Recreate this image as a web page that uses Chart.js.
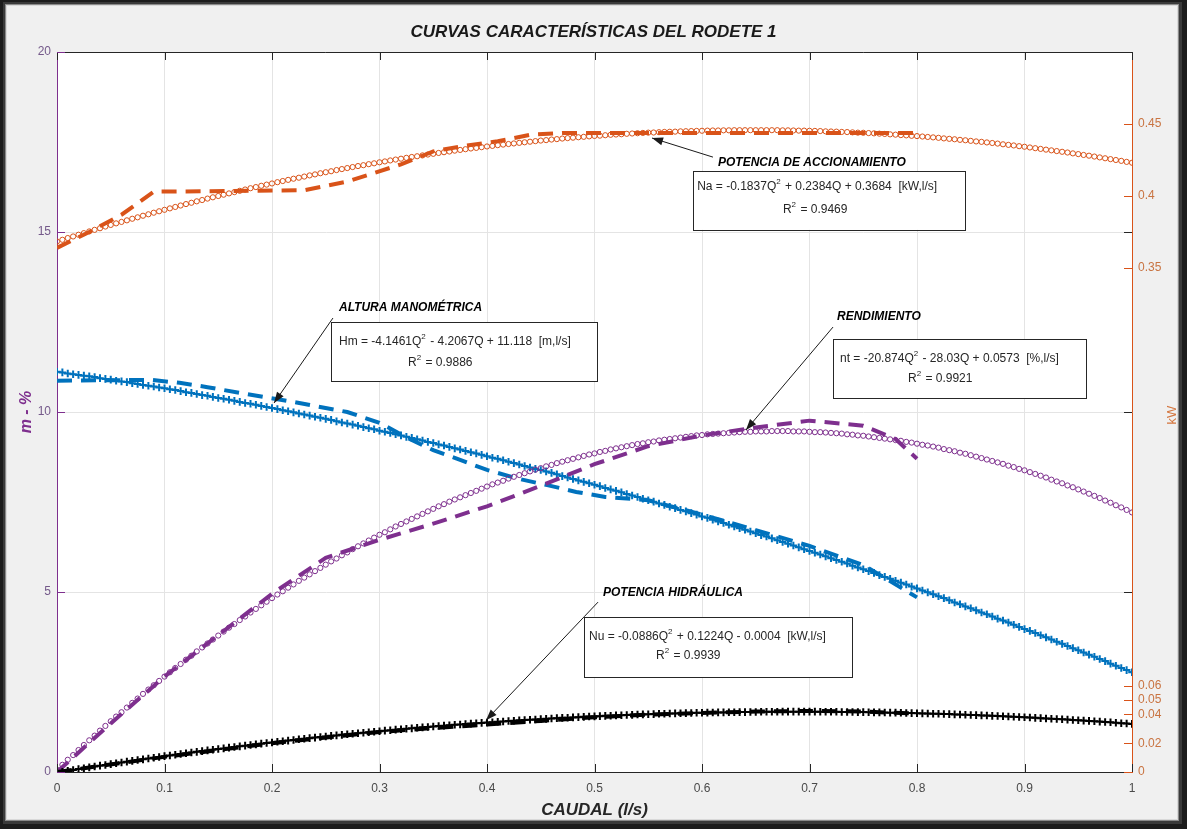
<!DOCTYPE html>
<html>
<head>
<meta charset="utf-8">
<script src="https://cdn.jsdelivr.net/npm/chart.js@4.4.1/dist/chart.umd.min.js"></script>
<style>
  html, body { margin: 0; padding: 0; background: #1c1c1c; }
  canvas { display: block; }
</style>
</head>
<body>
<canvas id="grafico" width="1187" height="829"></canvas>
<script>
// Caudal (l/s): malla de evaluación de las curvas ajustadas
const caudal = [
  0,0.005,0.01,0.015,0.02,0.025,0.03,0.035,0.04,0.045,0.05,0.055,0.06,0.065,0.07,0.075,0.08,0.085,0.09,0.095,
  0.1,0.105,0.11,0.115,0.12,0.125,0.13,0.135,0.14,0.145,0.15,0.155,0.16,0.165,0.17,0.175,0.18,0.185,0.19,0.195,
  0.2,0.205,0.21,0.215,0.22,0.225,0.23,0.235,0.24,0.245,0.25,0.255,0.26,0.265,0.27,0.275,0.28,0.285,0.29,0.295,
  0.3,0.305,0.31,0.315,0.32,0.325,0.33,0.335,0.34,0.345,0.35,0.355,0.36,0.365,0.37,0.375,0.38,0.385,0.39,0.395,
  0.4,0.405,0.41,0.415,0.42,0.425,0.43,0.435,0.44,0.445,0.45,0.455,0.46,0.465,0.47,0.475,0.48,0.485,0.49,0.495,
  0.5,0.505,0.51,0.515,0.52,0.525,0.53,0.535,0.54,0.545,0.55,0.555,0.56,0.565,0.57,0.575,0.58,0.585,0.59,0.595,
  0.6,0.605,0.61,0.615,0.62,0.625,0.63,0.635,0.64,0.645,0.65,0.655,0.66,0.665,0.67,0.675,0.68,0.685,0.69,0.695,
  0.7,0.705,0.71,0.715,0.72,0.725,0.73,0.735,0.74,0.745,0.75,0.755,0.76,0.765,0.77,0.775,0.78,0.785,0.79,0.795,
  0.8,0.805,0.81,0.815,0.82,0.825,0.83,0.835,0.84,0.845,0.85,0.855,0.86,0.865,0.87,0.875,0.88,0.885,0.89,0.895,
  0.9,0.905,0.91,0.915,0.92,0.925,0.93,0.935,0.94,0.945,0.95,0.955,0.96,0.965,0.97,0.975,0.98,0.985,0.99,0.995,1
];

// Altura manométrica ajustada (m)
const alturaAjuste = [
  11.12,11.10,11.07,11.05,11.03,11.01,10.99,10.97,10.94,10.92,10.90,10.87,10.85,10.83,10.80,10.78,10.75,10.73,10.71,10.68,
  10.66,10.63,10.61,10.58,10.55,10.53,10.50,10.47,10.45,10.42,10.39,10.37,10.34,10.31,10.28,10.25,10.23,10.20,10.17,10.14,
  10.11,10.08,10.05,10.02,9.99,9.96,9.93,9.90,9.87,9.84,9.81,9.78,9.74,9.71,9.68,9.65,9.62,9.58,9.55,9.52,
  9.48,9.45,9.42,9.38,9.35,9.31,9.28,9.24,9.21,9.17,9.14,9.10,9.07,9.03,8.99,8.96,8.92,8.88,8.85,8.81,
  8.77,8.73,8.70,8.66,8.62,8.58,8.54,8.50,8.46,8.42,8.39,8.35,8.31,8.27,8.22,8.18,8.14,8.10,8.06,8.02,
  7.98,7.94,7.89,7.85,7.81,7.77,7.72,7.68,7.64,7.59,7.55,7.51,7.46,7.42,7.37,7.33,7.28,7.24,7.19,7.15,
  7.10,7.06,7.01,6.96,6.92,6.87,6.82,6.77,6.73,6.68,6.63,6.58,6.54,6.49,6.44,6.39,6.34,6.29,6.24,6.19,
  6.14,6.09,6.04,5.99,5.94,5.89,5.84,5.79,5.73,5.68,5.63,5.58,5.53,5.47,5.42,5.37,5.31,5.26,5.21,5.15,
  5.10,5.04,4.99,4.94,4.88,4.83,4.77,4.71,4.66,4.60,4.55,4.49,4.43,4.38,4.32,4.26,4.21,4.15,4.09,4.03,
  3.97,3.92,3.86,3.80,3.74,3.68,3.62,3.56,3.50,3.44,3.38,3.32,3.26,3.20,3.14,3.08,3.01,2.95,2.89,2.83,2.77
];

// Rendimiento ajustado
const rendimientoAjuste = [
  0.06,0.20,0.34,0.47,0.61,0.75,0.88,1.01,1.15,1.28,1.41,1.54,1.66,1.79,1.92,2.04,2.17,2.29,2.41,2.53,
  2.65,2.77,2.89,3.00,3.12,3.23,3.35,3.46,3.57,3.68,3.79,3.90,4.01,4.11,4.22,4.32,4.43,4.53,4.63,4.73,
  4.83,4.93,5.02,5.12,5.21,5.31,5.40,5.49,5.58,5.67,5.76,5.85,5.93,6.02,6.10,6.19,6.27,6.35,6.43,6.51,
  6.59,6.66,6.74,6.82,6.89,6.96,7.03,7.10,7.17,7.24,7.31,7.38,7.44,7.51,7.57,7.63,7.69,7.75,7.81,7.87,
  7.93,7.99,8.04,8.09,8.15,8.20,8.25,8.30,8.35,8.40,8.44,8.49,8.53,8.58,8.62,8.66,8.70,8.74,8.78,8.82,
  8.85,8.89,8.92,8.96,8.99,9.02,9.05,9.08,9.11,9.13,9.16,9.18,9.21,9.23,9.25,9.27,9.29,9.31,9.33,9.35,
  9.36,9.38,9.39,9.40,9.41,9.42,9.43,9.44,9.45,9.45,9.46,9.46,9.46,9.47,9.47,9.47,9.47,9.46,9.46,9.46,
  9.45,9.44,9.44,9.43,9.42,9.41,9.40,9.38,9.37,9.35,9.34,9.32,9.30,9.28,9.26,9.24,9.22,9.20,9.17,9.15,
  9.12,9.09,9.07,9.04,9.01,8.97,8.94,8.91,8.87,8.84,8.80,8.76,8.72,8.68,8.64,8.60,8.56,8.51,8.47,8.42,
  8.38,8.33,8.28,8.23,8.18,8.12,8.07,8.02,7.96,7.91,7.85,7.79,7.73,7.67,7.61,7.54,7.48,7.41,7.35,7.28,7.21
];

// Potencia de accionamiento ajustada (kW)
const accionamientoAjuste = [
  0.3684,0.3696,0.3708,0.3719,0.3731,0.3742,0.3754,0.3765,0.3776,0.3788,0.3799,0.3810,0.3820,0.3831,0.3842,0.3852,0.3863,0.3873,0.3884,0.3894,
  0.3904,0.3914,0.3924,0.3934,0.3944,0.3953,0.3963,0.3972,0.3982,0.3991,0.4000,0.4009,0.4018,0.4027,0.4036,0.4045,0.4054,0.4062,0.4071,0.4079,
  0.4087,0.4096,0.4104,0.4112,0.4120,0.4127,0.4135,0.4143,0.4150,0.4158,0.4165,0.4172,0.4180,0.4187,0.4194,0.4201,0.4208,0.4214,0.4221,0.4227,
  0.4234,0.4240,0.4247,0.4253,0.4259,0.4265,0.4271,0.4276,0.4282,0.4288,0.4293,0.4299,0.4304,0.4309,0.4315,0.4320,0.4325,0.4330,0.4334,0.4339,
  0.4344,0.4348,0.4353,0.4357,0.4361,0.4365,0.4369,0.4373,0.4377,0.4381,0.4385,0.4388,0.4392,0.4395,0.4399,0.4402,0.4405,0.4408,0.4411,0.4414,
  0.4417,0.4419,0.4422,0.4425,0.4427,0.4429,0.4432,0.4434,0.4436,0.4438,0.4440,0.4441,0.4443,0.4445,0.4446,0.4447,0.4449,0.4450,0.4451,0.4452,
  0.4453,0.4454,0.4455,0.4455,0.4456,0.4456,0.4457,0.4457,0.4457,0.4457,0.4457,0.4457,0.4457,0.4457,0.4457,0.4456,0.4456,0.4455,0.4454,0.4454,
  0.4453,0.4452,0.4451,0.4449,0.4448,0.4447,0.4445,0.4444,0.4442,0.4440,0.4439,0.4437,0.4435,0.4433,0.4431,0.4428,0.4426,0.4423,0.4421,0.4418,
  0.4416,0.4413,0.4410,0.4407,0.4404,0.4400,0.4397,0.4394,0.4390,0.4387,0.4383,0.4379,0.4376,0.4372,0.4368,0.4364,0.4359,0.4355,0.4351,0.4346,
  0.4342,0.4337,0.4332,0.4327,0.4322,0.4317,0.4312,0.4307,0.4302,0.4296,0.4291,0.4285,0.4280,0.4274,0.4268,0.4262,0.4256,0.4250,0.4244,0.4237,0.4231
];

// Potencia hidráulica ajustada (kW)
const hidraulicaAjuste = [
  -0.0004,0.0002,0.0008,0.0014,0.0020,0.0026,0.0032,0.0038,0.0044,0.0049,0.0055,0.0061,0.0066,0.0072,0.0077,0.0083,0.0088,0.0094,0.0099,0.0104,
  0.0110,0.0115,0.0120,0.0125,0.0130,0.0135,0.0140,0.0145,0.0150,0.0155,0.0160,0.0164,0.0169,0.0174,0.0178,0.0183,0.0188,0.0192,0.0197,0.0201,
  0.0205,0.0210,0.0214,0.0218,0.0222,0.0227,0.0231,0.0235,0.0239,0.0243,0.0247,0.0251,0.0254,0.0258,0.0262,0.0266,0.0269,0.0273,0.0276,0.0280,
  0.0283,0.0287,0.0290,0.0294,0.0297,0.0300,0.0303,0.0307,0.0310,0.0313,0.0316,0.0319,0.0322,0.0325,0.0328,0.0330,0.0333,0.0336,0.0339,0.0341,
  0.0344,0.0346,0.0349,0.0351,0.0354,0.0356,0.0359,0.0361,0.0363,0.0365,0.0367,0.0369,0.0372,0.0374,0.0376,0.0377,0.0379,0.0381,0.0383,0.0385,
  0.0386,0.0388,0.0390,0.0391,0.0393,0.0394,0.0396,0.0397,0.0399,0.0400,0.0401,0.0402,0.0404,0.0405,0.0406,0.0407,0.0408,0.0409,0.0410,0.0411,
  0.0411,0.0412,0.0413,0.0414,0.0414,0.0415,0.0415,0.0416,0.0416,0.0417,0.0417,0.0418,0.0418,0.0418,0.0418,0.0419,0.0419,0.0419,0.0419,0.0419,
  0.0419,0.0419,0.0418,0.0418,0.0418,0.0418,0.0417,0.0417,0.0417,0.0416,0.0416,0.0415,0.0414,0.0414,0.0413,0.0412,0.0412,0.0411,0.0410,0.0409,
  0.0408,0.0407,0.0406,0.0405,0.0404,0.0403,0.0402,0.0400,0.0399,0.0398,0.0396,0.0395,0.0393,0.0392,0.0390,0.0389,0.0387,0.0385,0.0384,0.0382,
  0.0380,0.0378,0.0376,0.0374,0.0372,0.0370,0.0368,0.0366,0.0364,0.0361,0.0359,0.0357,0.0355,0.0352,0.0350,0.0347,0.0345,0.0342,0.0339,0.0337,0.0334
];

// Valores medidos en el banco de ensayo
const caudalAccionamientoMedido = [0, 0.03, 0.06, 0.09, 0.23, 0.27, 0.32, 0.35, 0.38, 0.41, 0.44, 0.47, 0.80];
const accionamientoMedido       = [0.364, 0.375, 0.387, 0.403, 0.404, 0.410, 0.422, 0.431, 0.435, 0.438, 0.4425, 0.4438, 0.4438];

const caudalAlturaMedido = [0, 0.04, 0.088, 0.114, 0.14, 0.17, 0.22, 0.27, 0.30, 0.33, 0.35, 0.375, 0.40, 0.43, 0.456, 0.483, 0.51, 0.55, 0.6, 0.65, 0.7, 0.75, 0.8];
const alturaMedida       = [10.87, 10.88, 10.89, 10.81, 10.69, 10.53, 10.28, 10.00, 9.70, 9.22, 8.94, 8.67, 8.39, 8.14, 7.97, 7.78, 7.64, 7.55, 7.15, 6.72, 6.28, 5.75, 4.85];

const caudalRendimientoMedido = [0, 0.05, 0.1, 0.15, 0.2, 0.25, 0.3, 0.35, 0.4, 0.45, 0.5, 0.55, 0.6, 0.65, 0.7, 0.75, 0.78, 0.8];
const rendimientoMedido       = [0.0, 1.35, 2.65, 3.80, 4.95, 5.95, 6.45, 6.90, 7.38, 7.95, 8.55, 9.05, 9.35, 9.57, 9.76, 9.62, 9.25, 8.70];

const caudalHidraulicaMedido = [0, 0.1, 0.2, 0.3, 0.35, 0.4, 0.45, 0.5, 0.55, 0.6, 0.65, 0.7, 0.75, 0.8];
const hidraulicaMedida       = [0.0, 0.0105, 0.0200, 0.0278, 0.0305, 0.0330, 0.0355, 0.0380, 0.0398, 0.0410, 0.0420, 0.0424, 0.0420, 0.0405];

// Marcas del eje derecho (kW)
const marcasKW = [0, 0.02, 0.04, 0.05, 0.06, 0.35, 0.4, 0.45];

const COLOR_NA = '#d95319';
const COLOR_HM = '#0072bd';
const COLOR_NT = '#7e2f8e';
const COLOR_NU = '#000000';
const FUENTE = "'Liberation Sans', Arial, Helvetica, sans-serif";

const pares = (xs, ys) => xs.map((x, i) => ({ x: x, y: ys[i] }));

// Cuadros de texto con las ecuaciones de ajuste (coordenadas en Q y en el eje izquierdo)
const notas = [
  { titulo: 'POTENCIA DE ACCIONAMIENTO', pt: [0.6149, 16.92],
    flecha: [[0.6102, 17.08], [0.5535, 17.61]],
    caja: [[0.5916, 16.69], [0.8447, 15.06]],
    lineas: [{ t: 'Na = -0.1837Q^2 + 0.2384Q + 0.3684  [kW,l/s]', p: [0.5955, 16.25] },
             { t: 'R^2 = 0.9469', p: [0.6753, 15.61] }] },
  { titulo: 'ALTURA MANOMÉTRICA', pt: [0.2623, 12.89],
    flecha: [[0.2567, 12.61], [0.2019, 10.25]],
    caja: [[0.2549, 12.50], [0.5023, 10.86]],
    lineas: [{ t: 'Hm = -4.1461Q^2 - 4.2067Q + 11.118  [m,l/s]', p: [0.2623, 11.94] },
             { t: 'R^2 = 0.9886', p: [0.3265, 11.36] }] },
  { titulo: 'RENDIMIENTO', pt: [0.7256, 12.64],
    flecha: [[0.7219, 12.36], [0.6409, 9.50]],
    caja: [[0.7219, 12.03], [0.9572, 10.39]],
    lineas: [{ t: 'nt = -20.874Q^2 - 28.03Q + 0.0573  [%,l/s]', p: [0.7284, 11.47] },
             { t: 'R^2 = 0.9921', p: [0.7916, 10.92] }] },
  { titulo: 'POTENCIA HIDRÁULICA', pt: [0.5079, 4.97],
    flecha: [[0.5033, 4.72], [0.3991, 1.44]],
    caja: [[0.4902, 4.31], [0.7395, 2.64]],
    lineas: [{ t: 'Nu = -0.0886Q^2 + 0.1224Q - 0.0004  [kW,l/s]', p: [0.4949, 3.75] },
             { t: 'R^2 = 0.9939', p: [0.5572, 3.22] }] }
];

// Fondo de la figura: marco oscuro, panel gris y área blanca de ejes
const fondo = {
  id: 'fondo',
  beforeDraw(chart) {
    const { ctx, width, height, chartArea: a } = chart;
    ctx.save();
    ctx.fillStyle = '#1c1c1c';
    ctx.fillRect(0, 0, width, height);
    ctx.fillStyle = '#3a3a3a';
    ctx.fillRect(3, 2, width - 8, height - 7);
    ctx.fillStyle = '#8a8a8a';
    ctx.fillRect(5, 4, width - 13, height - 12);
    ctx.fillStyle = '#d9d9d9';
    ctx.fillRect(6, 5, width - 15, height - 14);
    ctx.fillStyle = '#f0f0f0';
    ctx.fillRect(7, 6, width - 17, height - 16);
    ctx.fillStyle = '#ffffff';
    ctx.fillRect(a.left, a.top, a.right - a.left, a.bottom - a.top);
    ctx.restore();
  }
};

// Texto con superíndices marcados con ^
function textoConIndice(ctx, texto, x, y, tam) {
  const partes = texto.split('^');
  let cx = x;
  partes.forEach((p, i) => {
    if (i > 0) {
      ctx.font = `${Math.round(tam * 0.7)}px ${FUENTE}`;
      ctx.fillText(p[0], cx, y - tam * 0.42);
      cx += ctx.measureText(p[0]).width + 1;
      p = p.slice(1);
    }
    ctx.font = `${tam}px ${FUENTE}`;
    ctx.fillText(p, cx, y);
    cx += ctx.measureText(p).width;
  });
}

// Ejes al estilo de la figura: marco superior, marcas hacia dentro, anotaciones y etiqueta kW
const ejes = {
  id: 'ejes',
  afterDatasetsDraw(chart) {
    const { ctx, chartArea: a, scales } = chart;
    const x = scales.x, y = scales.y, yR = scales.yR;
    ctx.save();
    ctx.lineWidth = 1;
    // línea superior
    ctx.strokeStyle = '#262626';
    ctx.beginPath(); ctx.moveTo(a.left, a.top + 0.5); ctx.lineTo(a.right, a.top + 0.5); ctx.stroke();
    // marcas del eje X (arriba y abajo)
    x.ticks.forEach(t => {
      const px = Math.round(x.getPixelForValue(t.value)) + 0.5;
      ctx.beginPath();
      ctx.moveTo(px, a.bottom); ctx.lineTo(px, a.bottom - 8);
      ctx.moveTo(px, a.top); ctx.lineTo(px, a.top + 8);
      ctx.stroke();
    });
    // marcas del eje izquierdo y su reflejo a la derecha
    y.ticks.forEach(t => {
      const py = Math.round(y.getPixelForValue(t.value)) + 0.5;
      ctx.strokeStyle = COLOR_NT;
      ctx.beginPath(); ctx.moveTo(a.left, py); ctx.lineTo(a.left + 8, py); ctx.stroke();
      ctx.strokeStyle = '#262626';
      ctx.beginPath(); ctx.moveTo(a.right, py); ctx.lineTo(a.right - 8, py); ctx.stroke();
    });
    // marcas del eje derecho
    ctx.strokeStyle = COLOR_NA;
    yR.ticks.forEach(t => {
      const py = Math.round(yR.getPixelForValue(t.value)) + 0.5;
      ctx.beginPath(); ctx.moveTo(a.right, py); ctx.lineTo(a.right - 8, py); ctx.stroke();
    });

    // anotaciones
    const P = (q, v) => [x.getPixelForValue(q), y.getPixelForValue(v)];
    notas.forEach(n => {
      // flecha
      const [x0, y0] = P(n.flecha[0][0], n.flecha[0][1]);
      const [x1, y1] = P(n.flecha[1][0], n.flecha[1][1]);
      ctx.strokeStyle = '#1a1a1a';
      ctx.fillStyle = '#1a1a1a';
      ctx.lineWidth = 1;
      ctx.beginPath(); ctx.moveTo(x0, y0); ctx.lineTo(x1, y1); ctx.stroke();
      const ang = Math.atan2(y1 - y0, x1 - x0);
      const L = 11, W = 4;
      ctx.beginPath();
      ctx.moveTo(x1, y1);
      ctx.lineTo(x1 - L * Math.cos(ang) + W * Math.sin(ang), y1 - L * Math.sin(ang) - W * Math.cos(ang));
      ctx.lineTo(x1 - L * Math.cos(ang) - W * Math.sin(ang), y1 - L * Math.sin(ang) + W * Math.cos(ang));
      ctx.closePath(); ctx.fill();
      // título
      const [tx, ty] = P(n.pt[0], n.pt[1]);
      ctx.font = `italic bold 12px ${FUENTE}`;
      ctx.textBaseline = 'middle';
      ctx.textAlign = 'left';
      ctx.fillStyle = '#000000';
      ctx.fillText(n.titulo, tx, ty);
      // caja
      const [bx0, by0] = P(n.caja[0][0], n.caja[0][1]);
      const [bx1, by1] = P(n.caja[1][0], n.caja[1][1]);
      ctx.fillStyle = '#ffffff';
      ctx.fillRect(bx0, by0, bx1 - bx0, by1 - by0);
      ctx.strokeStyle = '#262626';
      ctx.lineWidth = 1;
      ctx.strokeRect(Math.round(bx0) + 0.5, Math.round(by0) + 0.5, Math.round(bx1 - bx0), Math.round(by1 - by0));
      ctx.fillStyle = '#262626';
      n.lineas.forEach(l => {
        const [lx, ly] = P(l.p[0], l.p[1]);
        textoConIndice(ctx, l.t, lx, ly, 12);
      });
    });

    // etiqueta del eje derecho
    ctx.save();
    ctx.translate(1172, (a.top + a.bottom) / 2 + 3);
    ctx.rotate(-Math.PI / 2);
    ctx.font = `13px ${FUENTE}`;
    ctx.fillStyle = '#d4763f';
    ctx.textAlign = 'center';
    ctx.textBaseline = 'middle';
    ctx.fillText('kW', 0, 0);
    ctx.restore();
    ctx.restore();
  }
};

const circulo = (color) => ({
  showLine: false, pointStyle: 'circle', pointRadius: 2.6, pointBorderWidth: 1,
  pointBorderColor: color, pointBackgroundColor: 'rgba(255,255,255,0)', borderColor: color
});
const cruz = (color) => ({
  showLine: true, borderWidth: 1.2, borderColor: color, pointStyle: 'cross', pointRadius: 3.8,
  pointBorderWidth: 2, pointBorderColor: color, pointBackgroundColor: color
});
const discontinua = (color) => ({
  showLine: true, borderWidth: 4, borderDash: [15, 9], borderColor: color, pointRadius: 0,
  borderCapStyle: 'butt', tension: 0
});

new Chart(document.getElementById('grafico'), {
  type: 'line',
  data: {
    datasets: [
      { label: 'Potencia hidráulica medida', data: pares(caudalHidraulicaMedido, hidraulicaMedida), yAxisID: 'yR', ...discontinua(COLOR_NU) },
      { label: 'Potencia hidráulica', data: pares(caudal, hidraulicaAjuste), yAxisID: 'yR', ...cruz(COLOR_NU) },
      { label: 'Rendimiento medido', data: pares(caudalRendimientoMedido, rendimientoMedido), yAxisID: 'y', ...discontinua(COLOR_NT) },
      { label: 'Rendimiento', data: pares(caudal, rendimientoAjuste), yAxisID: 'y', ...circulo(COLOR_NT) },
      { label: 'Altura manométrica medida', data: pares(caudalAlturaMedido, alturaMedida), yAxisID: 'y', ...discontinua(COLOR_HM) },
      { label: 'Altura manométrica', data: pares(caudal, alturaAjuste), yAxisID: 'y', ...cruz(COLOR_HM) },
      { label: 'Potencia de accionamiento medida', data: pares(caudalAccionamientoMedido, accionamientoMedido), yAxisID: 'yR', ...discontinua(COLOR_NA) },
      { label: 'Potencia de accionamiento', data: pares(caudal, accionamientoAjuste), yAxisID: 'yR', ...circulo(COLOR_NA) }
    ]
  },
  options: {
    responsive: false,
    animation: false,
    devicePixelRatio: 1,
    layout: { padding: { top: 0, left: 0, right: 0, bottom: 0 } },
    plugins: {
      legend: { display: false },
      tooltip: { enabled: false },
      title: {
        display: true,
        text: 'CURVAS CARACTERÍSTICAS DEL RODETE 1',
        color: '#1a1a1a',
        font: { family: FUENTE, size: 17, weight: 'bold', style: 'italic', lineHeight: 1.2 },
        padding: { top: 22, bottom: 9.6 }
      }
    },
    scales: {
      x: {
        type: 'linear', min: 0, max: 1,
        afterFit: s => { s.height = 57; },
        ticks: { stepSize: 0.1, color: '#4a4a4a', padding: 9, font: { family: FUENTE, size: 12 },
                 callback: v => String(Number(v.toFixed(1))) },
        grid: { color: '#e4e4e4', lineWidth: 1, drawTicks: false },
        border: { display: true, color: '#262626', width: 1 },
        title: { display: true, text: 'CAUDAL (l/s)', color: '#262626',
                 font: { family: FUENTE, size: 17, weight: 'bold', style: 'italic', lineHeight: 1.2 },
                 padding: { top: 0, bottom: 8.4 } }
      },
      y: {
        type: 'linear', position: 'left', min: 0, max: 20,
        afterFit: s => { s.width = 57; },
        ticks: { stepSize: 5, color: '#74598a', padding: 6, font: { family: FUENTE, size: 12 } },
        grid: { color: '#e4e4e4', lineWidth: 1, drawTicks: false },
        border: { display: true, color: COLOR_NT, width: 1 },
        title: { display: true, text: 'm - %', color: COLOR_NT,
                 font: { family: FUENTE, size: 16, weight: 'bold', style: 'italic', lineHeight: 1.2 },
                 padding: { top: 17, bottom: 0 } }
      },
      yR: {
        type: 'linear', position: 'right', min: 0, max: 0.5,
        afterFit: s => { s.width = 55; },
        afterBuildTicks: s => { s.ticks = marcasKW.map(v => ({ value: v })); },
        ticks: { autoSkip: false, color: '#c97442', padding: 6, font: { family: FUENTE, size: 12 },
                 callback: v => String(v) },
        grid: { drawOnChartArea: false, drawTicks: false },
        border: { display: true, color: COLOR_NA, width: 1 }
      }
    }
  },
  plugins: [fondo, ejes]
});
</script>
</body>
</html>
